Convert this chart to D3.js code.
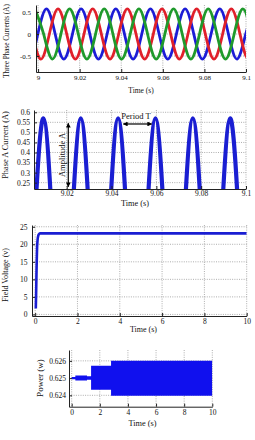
<!DOCTYPE html>
<html lang="en">
<head>
<meta charset="UTF-8">
<title>Generator waveforms</title>
<script src="https://d3js.org/d3.v7.min.js"></script>
<style>
  body { margin: 0; background: #fff; }
  svg { display: block; font-family: "Liberation Serif", "Times New Roman", serif; }
</style>
</head>
<body>
<script>

// ---- data ----
// three phase currents: samples at every quarter period (peak, zero, trough, zero ...)
const waveV = [0.57, 0, -0.57, 0, 0.57, 0, -0.57, 0, 0.57, 0, -0.57, 0, 0.57, 0, -0.57, 0,
               0.57, 0, -0.57, 0, 0.57, 0, -0.57, 0, 0.57, 0, -0.57, 0, 0.57];
const redT = [8.99293, 8.99710, 9.00127, 9.00543, 9.00960, 9.01377, 9.01793, 9.02210, 9.02627, 9.03043,
              9.03460, 9.03877, 9.04293, 9.04710, 9.05127, 9.05543, 9.05960, 9.06377, 9.06793, 9.07210,
              9.07627, 9.08043, 9.08460, 9.08877, 9.09293, 9.09710, 9.10127, 9.10543, 9.10960];
const blueT = [8.98738, 8.99154, 8.99571, 8.99988, 9.00404, 9.00821, 9.01238, 9.01654, 9.02071, 9.02488,
               9.02904, 9.03321, 9.03738, 9.04154, 9.04571, 9.04988, 9.05404, 9.05821, 9.06238, 9.06654,
               9.07071, 9.07488, 9.07904, 9.08321, 9.08738, 9.09154, 9.09571, 9.09988, 9.10404];
const greenT = [8.99849, 9.00265, 9.00682, 9.01099, 9.01515, 9.01932, 9.02349, 9.02765, 9.03182, 9.03599,
                9.04015, 9.04432, 9.04849, 9.05265, 9.05682, 9.06099, 9.06515, 9.06932, 9.07349, 9.07765,
                9.08182, 9.08599, 9.09015, 9.09432, 9.09849, 9.10265, 9.10682, 9.11099, 9.11515];

const fieldT = [0.03, 0.045, 0.06, 0.075, 0.09, 0.11, 0.14, 0.18, 0.24, 10];
const fieldV = [1.7, 6, 11, 15.5, 19, 21, 22.3, 22.9, 23.1, 23.1];

const powerT  = [0, 0.26, 1.09, 1.38, 2.8, 10];
const powerHi = [0.62506, 0.625145, 0.62510, 0.62571, 0.62600, 0.62600];
const powerLo = [0.62494, 0.624855, 0.62490, 0.62433, 0.62398, 0.62398];

const ticks1X = [9, 9.02, 9.04, 9.06, 9.08, 9.1];
const ticks1Y = [-0.5, 0, 0.5];
const ticks2X = [9.02, 9.04, 9.06, 9.08, 9.1];
const ticks2Y = [0.25, 0.3, 0.35, 0.4, 0.45, 0.5, 0.55, 0.6];
const ticks3X = [0, 2, 4, 6, 8, 10];
const ticks3Y = [0, 5, 10, 15, 20, 25];
const ticks4X = [0, 2, 4, 6, 8, 10];
const ticks4Y = [0.624, 0.625, 0.626];

const svg = d3.select('body').append('svg').attr('width', 255).attr('height', 440);
svg.append('rect').attr('width', 255).attr('height', 440).attr('fill', '#fff');

const defs = svg.append('defs');
defs.append('marker').attr('id', 'arr')
    .attr('viewBox', '0 0 10 10').attr('refX', 9).attr('refY', 5)
    .attr('markerWidth', 4).attr('markerHeight', 4).attr('orient', 'auto-start-reverse')
  .append('path').attr('d', 'M0,0 L10,5 L0,10 z').attr('fill', '#000');

// sets up scales, grid and clip for one panel
function panel(c, id) {
    const x = d3.scaleLinear().domain(c.xd).range([c.left, c.right]);
    const y = d3.scaleLinear().domain(c.yd).range([c.bottom, c.top]);
    const g = svg.append('g');
    g.selectAll('.vg').data(c.xt).join('line')
        .attr('x1', d => x(d)).attr('x2', d => x(d)).attr('y1', c.top).attr('y2', c.bottom)
        .attr('stroke', '#777').attr('stroke-width', 0.6).attr('stroke-dasharray', '1,1.3');
    g.selectAll('.hg').data(c.yt).join('line')
        .attr('y1', d => y(d)).attr('y2', d => y(d)).attr('x1', c.left).attr('x2', c.right)
        .attr('stroke', '#777').attr('stroke-width', 0.6).attr('stroke-dasharray', '1,1.3');
    defs.append('clipPath').attr('id', id)
      .append('rect').attr('x', c.left).attr('y', c.top)
        .attr('width', c.right - c.left).attr('height', c.bottom - c.top);
    const plot = g.append('g').attr('clip-path', `url(#${id})`);
    return { x, y, g, plot, c };
}

// axes drawn last so they sit above the traces
function axes(p, o) {
    const c = p.c;
    const ax = p.g.append('g').attr('transform', `translate(0,${c.bottom})`)
        .call(d3.axisBottom(p.x).tickValues(c.xt).tickFormat(d => String(d))
            .tickSize(-3).tickSizeOuter(0).tickPadding(o.xpad));
    const ay = p.g.append('g').attr('transform', `translate(${c.left},0)`)
        .call(d3.axisLeft(p.y).tickValues(c.yt).tickFormat(d => String(d))
            .tickSize(-3).tickSizeOuter(0).tickPadding(o.ypad));
    [ax, ay].forEach(a => {
        a.select('.domain').attr('stroke', '#222');
        a.selectAll('.tick line').attr('stroke', '#222');
        a.selectAll('text').attr('font-family', '"Liberation Serif", serif')
            .attr('font-size', o.tfs).attr('fill', '#111');
    });
    p.g.append('text').attr('x', o.xl[0]).attr('y', o.xl[1]).attr('text-anchor', 'middle')
        .attr('font-size', o.lfs).attr('fill', '#111').text('Time (s)');
    p.g.append('text').attr('transform', `translate(${o.yl[0]},${o.yl[1]}) rotate(-90)`)
        .attr('text-anchor', 'middle').attr('font-size', o.yfs || o.lfs).attr('fill', '#111').text(o.ylab);
}

// ---- panel 1: three phase currents ----
const p1 = panel({ xd: [8.999, 9.1], yd: [-0.864, 0.659], left: 36, right: 246, top: 5, bottom: 72,
                   xt: ticks1X, yt: ticks1Y }, 'c1');
const wave1 = d3.line().x(d => p1.x(d[0])).y(d => p1.y(d[1])).curve(d3.curveNatural);
[[blueT, '#1c1cd6'], [redT, '#e0202a'], [greenT, '#1f9a2c']].forEach(([ts, col]) => {
    p1.plot.append('path').datum(ts.map((t, i) => [t, waveV[i]]))
        .attr('d', wave1).attr('fill', 'none').attr('stroke', col).attr('stroke-width', 2.8);
});
axes(p1, { xpad: 3, ypad: 5, tfs: 7, lfs: 7.5, xl: [141, 93], yl: [8.6, 41], ylab: 'Three Phase Currents (A)', yfs: 7.2 });

// ---- panel 2: phase A current ----
const p2 = panel({ xd: [9.0054, 9.1], yd: [0.2184, 0.6114], left: 34, right: 246, top: 110, bottom: 189,
                   xt: ticks2X, yt: ticks2Y }, 'c2');
const wave2 = d3.line().x(d => p2.x(d[0])).y(d => p2.y(d[1])).curve(d3.curveNatural);
p2.plot.append('path').datum(redT.map((t, i) => [t, waveV[i]]))
    .attr('d', wave2).attr('fill', 'none').attr('stroke', '#1a1ed2').attr('stroke-width', 4.2);
// annotations
p2.g.append('line').attr('x1', p2.x(9.0207)).attr('x2', p2.x(9.0207))
    .attr('y1', p2.y(0.2298)).attr('y2', p2.y(0.5453))
    .attr('stroke', '#000').attr('stroke-width', 1.2)
    .attr('marker-start', 'url(#arr)').attr('marker-end', 'url(#arr)');
p2.g.append('text').attr('transform', `translate(64.8,155) rotate(-90)`)
    .attr('text-anchor', 'middle').attr('font-size', 8.5).attr('fill', '#111').text('Amplitude A');
p2.g.append('rect').attr('x', 122).attr('y', 111.5).attr('width', 28).attr('height', 8).attr('fill', '#fff');
p2.g.append('text').attr('x', 136).attr('y', 118.5).attr('text-anchor', 'middle')
    .attr('font-size', 8.5).attr('fill', '#111').text('Period T');
p2.g.append('line').attr('x1', p2.x(9.04526)).attr('x2', p2.x(9.05793))
    .attr('y1', p2.y(0.5418)).attr('y2', p2.y(0.5418))
    .attr('stroke', '#000').attr('stroke-width', 1.2)
    .attr('marker-start', 'url(#arr)').attr('marker-end', 'url(#arr)');
axes(p2, { xpad: 2, ypad: 4, tfs: 7.5, lfs: 8.3, xl: [135, 206], yl: [7.9, 145], ylab: 'Phase A Current (A)' });

// ---- panel 3: field voltage ----
const p3 = panel({ xd: [-0.15, 10], yd: [-0.45, 25.5], left: 32, right: 246.7, top: 225, bottom: 316,
                   xt: ticks3X, yt: ticks3Y }, 'c3');
p3.plot.append('path').datum(fieldT.map((t, i) => [t, fieldV[i]]))
    .attr('d', d3.line().x(d => p3.x(d[0])).y(d => p3.y(d[1])).curve(d3.curveMonotoneX))
    .attr('fill', 'none').attr('stroke', '#1a1ed2').attr('stroke-width', 2.6);
axes(p3, { xpad: 3, ypad: 4.5, tfs: 7.5, lfs: 8, xl: [143.5, 332], yl: [7.8, 275], ylab: 'Field Voltage (v)' });

// ---- panel 4: power ----
const p4 = panel({ xd: [-0.19, 10], yd: [0.62334, 0.62663], left: 69, right: 212.3, top: 350, bottom: 406.7,
                   xt: ticks4X, yt: ticks4Y }, 'c4');
p4.plot.append('path').datum(powerT.map((t, i) => [t, powerHi[i], powerLo[i]]))
    .attr('d', d3.area().x(d => p4.x(d[0])).y0(d => p4.y(d[2])).y1(d => p4.y(d[1])).curve(d3.curveStepAfter))
    .attr('fill', '#1010ee');
axes(p4, { xpad: 3, ypad: 3, tfs: 7.5, lfs: 8.3, xl: [142.5, 426], yl: [43, 378], ylab: 'Power (w)', yfs: 9 });

</script>
</body>
</html>
